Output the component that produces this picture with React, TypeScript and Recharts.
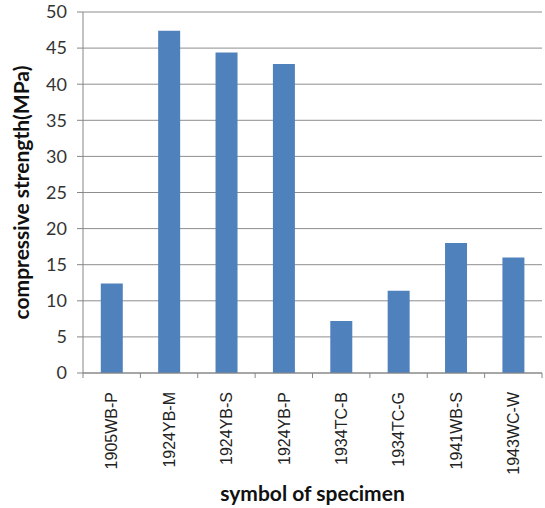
import React from 'react';
import { BarChart, Bar, XAxis, YAxis, CartesianGrid } from 'recharts';

const specimens = ['1905WB-P', '1924YB-M', '1924YB-S', '1924YB-P', '1934TC-B', '1934TC-G', '1941WB-S', '1943WC-W'];
const strength = [12.4, 47.4, 44.4, 42.8, 7.2, 11.4, 18.0, 16.0];
const yTicks = [0, 5, 10, 15, 20, 25, 30, 35, 40, 45, 50];

const data = specimens.map((s, i) => ({ name: s, value: strength[i] }));

const XTick = (props: any) => {
  const { x, y, payload, index } = props;
  const off = payload && payload.offset ? payload.offset : 0;
  return (
    <g>
      <line x1={x - off} x2={x - off} y1={y - 8} y2={y - 3} stroke="#868686" strokeWidth={1} />
      {index === specimens.length - 1 && (
        <line x1={x + off} x2={x + off} y1={y - 8} y2={y - 3} stroke="#868686" strokeWidth={1} />
      )}
      <text
        x={x}
        y={y + 11}
        transform={`rotate(-90, ${x}, ${y + 11})`}
        textAnchor="end"
        dy="0.36em"
        fontFamily="Liberation Sans, Arial, sans-serif"
        fontSize={16}
        fill="#222"
      >
        {payload.value}
      </text>
    </g>
  );
};

export default function App() {
  return (
    <div style={{ position: 'absolute', left: 0, top: 0, background: '#fff' }}>
      <BarChart
        width={545}
        height={508}
        data={data}
        margin={{ top: 12, right: 3, bottom: 0, left: 0 }}
        barCategoryGap="31%"
      >
        <CartesianGrid vertical={false} stroke="#8e8e8e" strokeWidth={1} />
        <XAxis
          dataKey="name"
          height={135}
          tickLine={false}
          axisLine={{ stroke: '#868686' }}
          interval={0}
          tick={<XTick />}
          label={{
            value: 'symbol of specimen',
            position: 'insideBottom',
            offset: 7,
            style: { fontFamily: 'Lato, sans-serif', fontWeight: 700, fontSize: 21, fill: '#111' },
          }}
        />
        <YAxis
          width={83}
          domain={[0, 50]}
          ticks={yTicks}
          interval={0}
          tickSize={6}
          tickMargin={10}
          tickLine={{ stroke: '#868686' }}
          axisLine={{ stroke: '#868686' }}
          tick={{ fontFamily: 'Lato, sans-serif', fontSize: 18, fill: '#333' }}
          label={{
            value: 'compressive strength(MPa)',
            angle: -90,
            position: 'insideLeft',
            offset: 22,
            style: { textAnchor: 'middle', fontFamily: 'Lato, sans-serif', fontWeight: 700, fontSize: 21, fill: '#111' },
          }}
        />
        <Bar dataKey="value" fill="#4f81bd" isAnimationActive={false} />
      </BarChart>
    </div>
  );
}
